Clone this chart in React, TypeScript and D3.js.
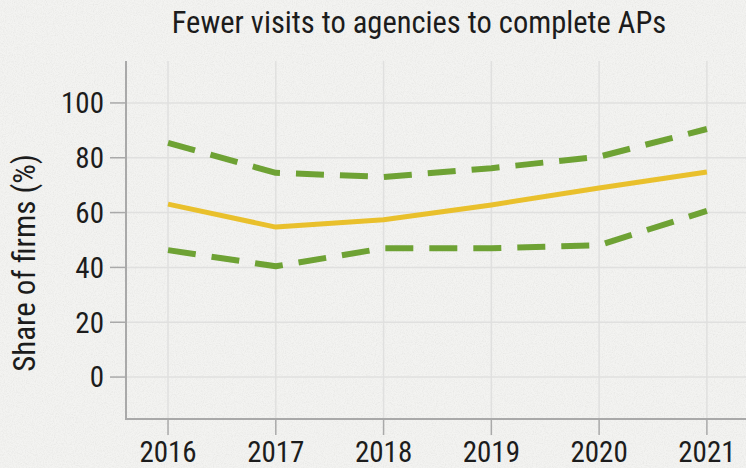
import React from "react";
import * as d3 from "d3";

const years = [2016, 2017, 2018, 2019, 2020, 2021];
const median = [63.1, 54.7, 57.4, 62.8, 69.0, 74.8];
const upper = [85.4, 74.5, 73.0, 76.2, 80.4, 90.5];
const lower = [46.3, 40.4, 47.0, 47.0, 48.1, 60.6];
const yTicks = [0, 20, 40, 60, 80, 100];

const W = 746;
const H = 468;
const FONT = "'Liberation Sans Narrow', 'Arial Narrow', 'Roboto Condensed', sans-serif";
const BG = "#f3f3f1";
const INK = "#1c1c1c";

export default function App() {
  const x = d3.scaleLinear().domain([2015.61, 2021.4]).range([126, 750]);
  const y = d3.scaleLinear().domain([-15.3, 115.3]).range([419, 61]);

  const line = (vals: number[]) =>
    d3.line<number>()
      .x((_, i) => x(years[i]))
      .y((d) => y(d))(vals) as string;

  return (
    <svg width={W} height={H} style={{ position: "fixed", left: 0, top: 0 }}>
      <defs>
        <filter id="paper" x="0" y="0" width="100%" height="100%">
          <feTurbulence type="fractalNoise" baseFrequency="0.9" numOctaves="3" seed="4" result="noise" />
          <feColorMatrix
            type="matrix"
            values="0 0 0 0 0.55  0 0 0 0 0.55  0 0 0 0 0.53  0 0 0 0.9 -0.35"
          />
          <feComposite in2="SourceGraphic" operator="in" />
        </filter>
      </defs>
      <rect width={W} height={H} fill={BG} />
      <rect width={W} height={H} fill={BG} filter="url(#paper)" opacity={0.5} />

      {/* grid */}
      {yTicks.map((t) => (
        <line key={"gy" + t} x1={126} x2={W} y1={y(t)} y2={y(t)} stroke="#e0e0df" strokeWidth={1.5} />
      ))}
      {years.map((yr) => (
        <line key={"gx" + yr} x1={x(yr)} x2={x(yr)} y1={61} y2={419} stroke="#e0e0df" strokeWidth={1.5} />
      ))}

      {/* axes */}
      <line x1={126} x2={126} y1={61} y2={420} stroke="#a9a9a9" strokeWidth={2} />
      <line x1={125} x2={W} y1={419} y2={419} stroke="#a9a9a9" strokeWidth={2} />
      {yTicks.map((t) => (
        <g key={"ty" + t}>
          <line x1={110} x2={126} y1={y(t)} y2={y(t)} stroke="#a9a9a9" strokeWidth={1.5} />
          <text x={104} y={y(t)} dy="0.36em" textAnchor="end" fontFamily={FONT} fontSize={29} fill={INK}>
            {t}
          </text>
        </g>
      ))}
      {years.map((yr) => (
        <g key={"tx" + yr}>
          <line x1={x(yr)} x2={x(yr)} y1={419} y2={435} stroke="#a9a9a9" strokeWidth={1.5} />
          <text x={x(yr)} y={462} textAnchor="middle" fontFamily={FONT} fontSize={29} fill={INK}>
            {yr}
          </text>
        </g>
      ))}

      {/* lines */}
      <path d={line(upper)} fill="none" stroke="#6ea234" strokeWidth={6} strokeDasharray="28 16" strokeLinejoin="round" />
      <path d={line(lower)} fill="none" stroke="#6ea234" strokeWidth={6} strokeDasharray="28 16" strokeLinejoin="round" />
      <path d={line(median)} fill="none" stroke="#e9c02c" strokeWidth={5} strokeLinejoin="round" />

      {/* labels */}
      <text x={419} y={33} textAnchor="middle" fontFamily={FONT} fontSize={30.5} fill={INK}>
        Fewer visits to agencies to complete APs
      </text>
      <text
        transform={`translate(35, 263) rotate(-90)`}
        textAnchor="middle"
        fontFamily={FONT}
        fontSize={31}
        fill={INK}
      >
        Share of firms (%)
      </text>
    </svg>
  );
}
